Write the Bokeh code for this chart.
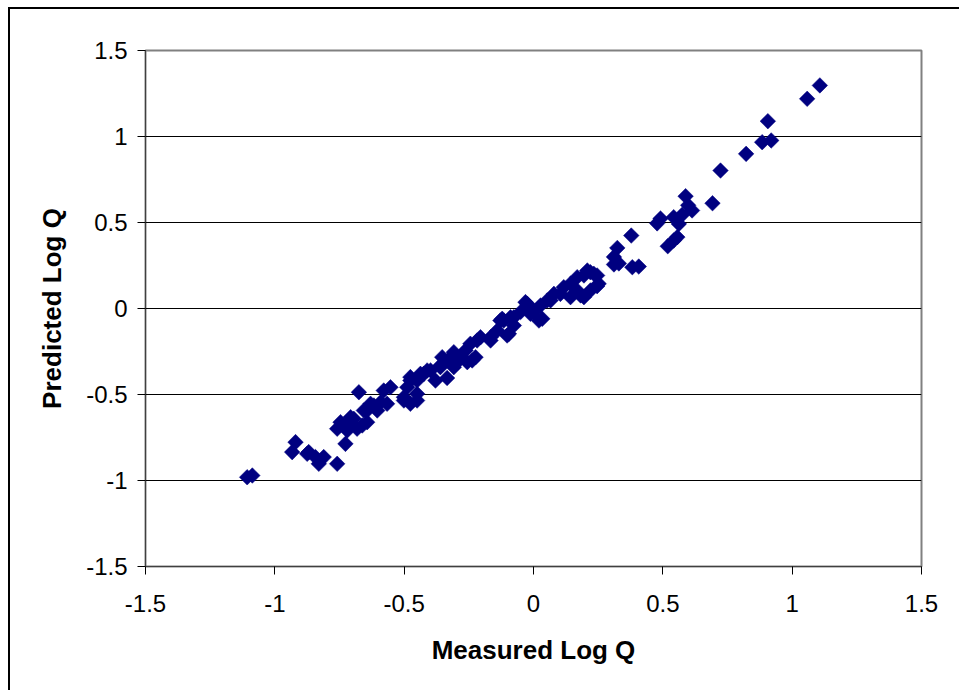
import math
from bokeh.plotting import figure
from bokeh.models import FixedTicker, ColumnDataSource
from bokeh.embed import file_html
from bokeh.resources import INLINE

measured = [1.107, 1.058, 0.906, 0.919, 0.884, 0.822, 0.723, 0.692, 0.588, 0.613,
            0.598, 0.575, 0.478, 0.491, 0.542, 0.562, 0.556, 0.519, 0.542, 0.378,
            0.324, 0.311, 0.311, 0.330, 0.382, 0.407, 0.220, 0.195, 0.246, 0.233,
            0.252, 0.220, 0.246, 0.169, 0.195, 0.182, 0.143, 0.117, 0.143, 0.169,
            0.208, 0.079, 0.104, 0.053, 0.066, 0.027, -0.031, -0.012, 0.021, 0.034,
            -0.050, -0.024, 0.001, -0.121, -0.128, -0.095, -0.102, -0.076, -0.076, -0.089,
            -0.115, -0.140, -0.166, -0.166, -0.205, -0.218, -0.244, -0.224, -0.256, -0.237,
            -0.282, -0.263, -0.308, -0.302, -0.353, -0.330, -0.360, -0.308, -0.411, -0.398,
            -0.334, -0.360, -0.437, -0.476, -0.424, -0.379, -0.450, -0.476, -0.488, -0.501,
            -0.450, -0.476, -0.450, -0.501, -0.553, -0.579, -0.591, -0.566, -0.617, -0.643,
            -0.604, -0.656, -0.630, -0.675, -0.662, -0.643, -0.695, -0.707, -0.720, -0.746,
            -0.759, -0.720, -0.682, -0.727, -0.759, -0.811, -0.830, -0.843, -0.869, -0.875,
            -0.920, -0.933, -1.087, -1.107]
predicted = [1.297, 1.219, 1.089, 0.977, 0.967, 0.899, 0.802, 0.612, 0.653, 0.570,
             0.600, 0.545, 0.495, 0.523, 0.531, 0.492, 0.415, 0.362, 0.395, 0.424,
             0.352, 0.300, 0.256, 0.262, 0.240, 0.244, 0.211, 0.192, 0.192, 0.202,
             0.144, 0.105, 0.130, 0.105, 0.066, 0.076, 0.144, 0.124, 0.066, 0.182,
             0.221, 0.085, 0.085, 0.047, 0.047, 0.017, 0.037, -0.031, -0.070, -0.060,
             -0.020, 0.027, -0.021, -0.060, -0.070, -0.147, -0.157, -0.099, -0.051, -0.051,
             -0.070, -0.128, -0.186, -0.167, -0.167, -0.186, -0.205, -0.283, -0.312, -0.302,
             -0.283, -0.244, -0.254, -0.322, -0.283, -0.300, -0.331, -0.341, -0.360, -0.360,
             -0.404, -0.341, -0.380, -0.399, -0.380, -0.419, -0.419, -0.419, -0.458, -0.516,
             -0.496, -0.554, -0.535, -0.535, -0.458, -0.477, -0.545, -0.554, -0.564, -0.593,
             -0.593, -0.593, -0.554, -0.487, -0.680, -0.661, -0.641, -0.632, -0.670, -0.661,
             -0.699, -0.709, -0.699, -0.787, -0.903, -0.864, -0.903, -0.864, -0.835, -0.845,
             -0.777, -0.835, -0.971, -0.981]

tick_values = [-1.5, -1, -0.5, 0, 0.5, 1, 1.5]
tick_labels = ["-1.5", "-1", "-0.5", "0", "0.5", "1", "1.5"]
x_title = "Measured Log Q"
y_title = "Predicted Log Q"

W, H = 951, 683
p = figure(width=W, height=H, output_backend="svg", toolbar_location=None,
           x_range=(-1.5, 1.5), y_range=(-1.5, 1.5),
           min_border_left=135, min_border_right=40, min_border_top=41,
           min_border_bottom=126)
p.styles = {"border-left": "2px solid black", "border-top": "2px solid black",
            "margin-left": "8px", "margin-top": "7px"}
p.background_fill_color = "white"
p.border_fill_color = "white"
p.outline_line_color = "#808080"
p.outline_line_width = 2

src = ColumnDataSource(dict(x=measured, y=predicted))
p.scatter("x", "y", source=src, marker="square", size=11, angle=math.pi / 4,
          fill_color="#000080", line_color="#000080", line_width=0.5)

overrides = {}
for v, l in zip(tick_values, tick_labels):
    key = int(v) if float(v).is_integer() else v
    overrides[key] = l

for ax in (p.xaxis[0], p.yaxis[0]):
    ax.ticker = FixedTicker(ticks=tick_values)
    ax.major_label_overrides = overrides
    ax.minor_tick_line_color = None
    ax.major_tick_in = 0
    ax.major_tick_out = 8
    ax.major_tick_line_color = "black"
    ax.axis_line_color = "#404040"
    ax.axis_line_width = 1
    ax.major_label_text_font = "Liberation Sans"
    ax.major_label_text_font_size = "24px"
    ax.major_label_text_color = "black"
    ax.axis_label_text_font = "Liberation Sans"
    ax.axis_label_text_font_size = "26px"
    ax.axis_label_text_font_style = "bold"
    ax.axis_label_text_color = "black"

p.xaxis.axis_label = x_title
p.yaxis.axis_label = y_title
p.xaxis.major_label_standoff = 20
p.xaxis.axis_label_standoff = 20
p.yaxis.major_label_standoff = 10
p.yaxis.axis_label_standoff = 16
p.yaxis.major_label_orientation = "horizontal"

p.xgrid.grid_line_color = None
p.ygrid.ticker = FixedTicker(ticks=tick_values)
p.ygrid.grid_line_color = "black"
p.ygrid.grid_line_width = 1

open("out.html", "w").write(file_html(p, INLINE))
